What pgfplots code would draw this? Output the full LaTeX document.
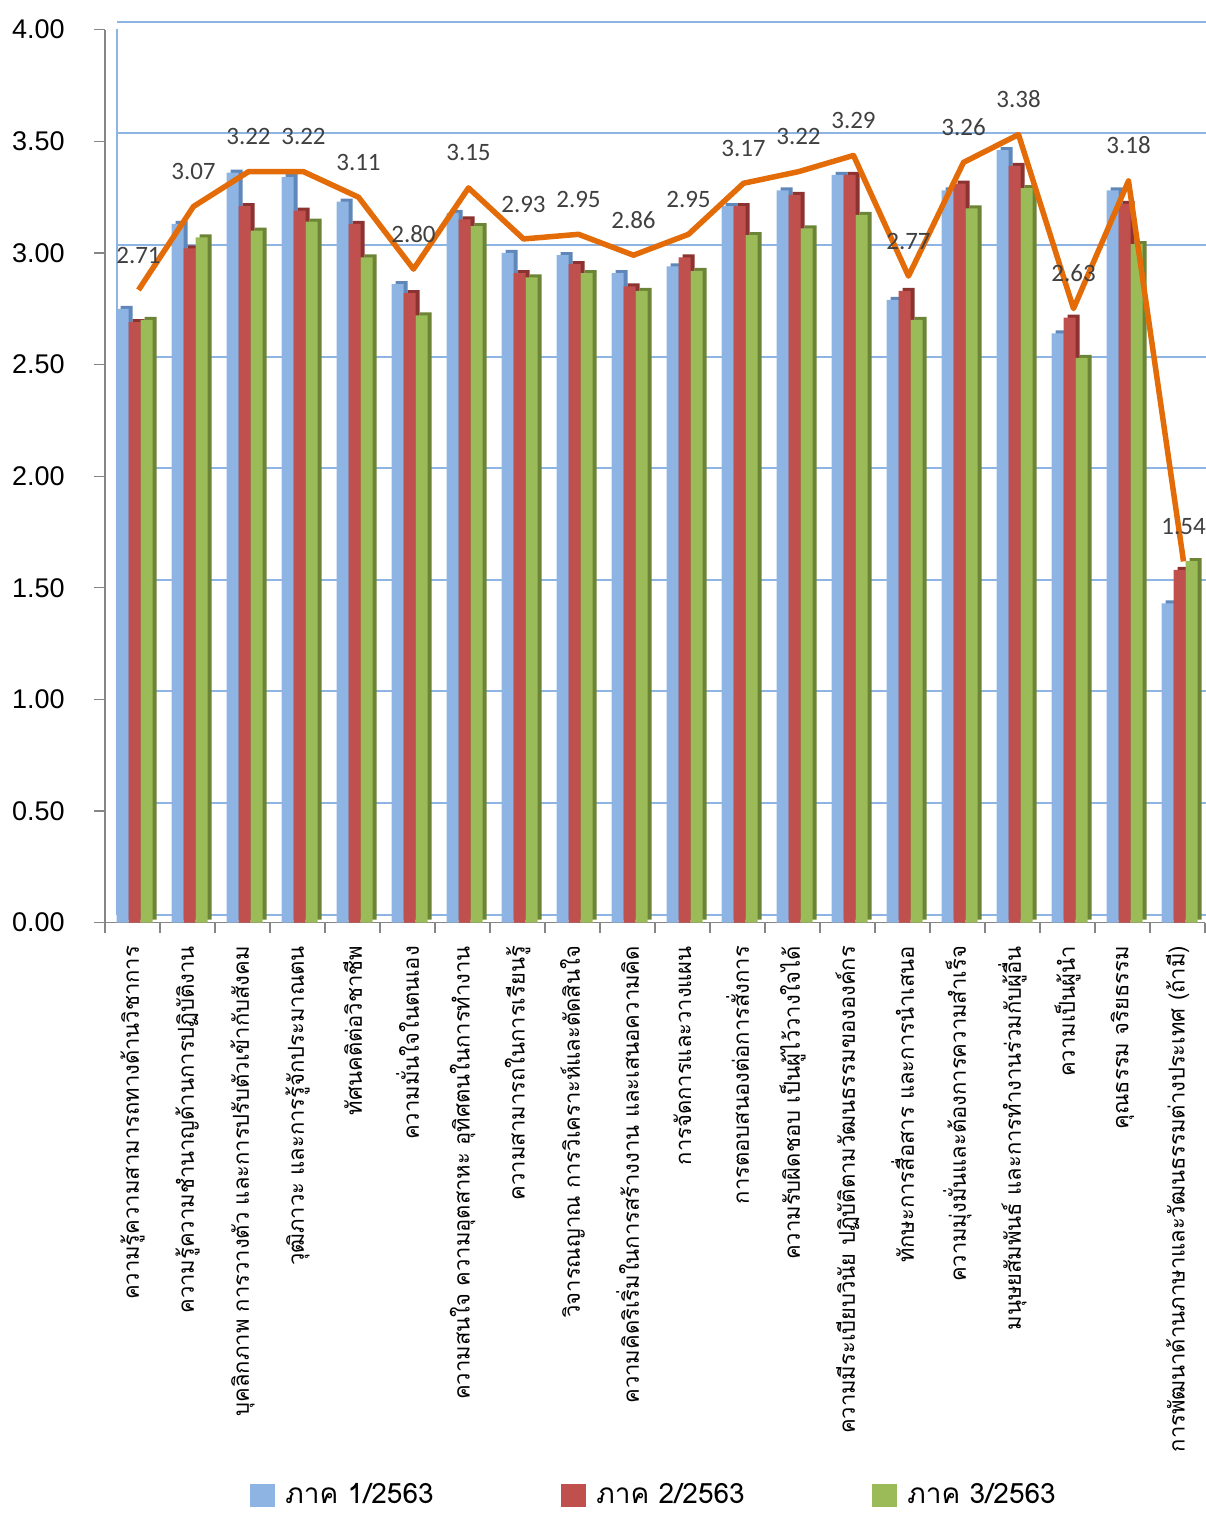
\documentclass[border=0pt]{standalone}
\usepackage{fontspec}
\setmainfont{Liberation Sans}
\newfontfamily\thaifont[Script=Thai]{Loma}
\newfontfamily\calfont{Carlito}
\usepackage{pgfplots}
\pgfplotsset{compat=1.18}
\usepackage{pgfplotstable}

\definecolor{sblue}{HTML}{8EB4E3}
\definecolor{sbluedk}{HTML}{5F87BA}
\definecolor{sred}{HTML}{C0504D}
\definecolor{sreddk}{HTML}{8C3230}
\definecolor{sgreen}{HTML}{9BBB59}
\definecolor{sgreendk}{HTML}{6B8436}
\definecolor{avgline}{HTML}{E36C09}
\definecolor{gridblue}{HTML}{8EB4E3}
\definecolor{axisgray}{HTML}{868686}
\definecolor{lbl}{HTML}{404040}

% x = category index, blue/red/green = term 1/2/3, avg = mean line
\pgfplotstableread{
x  blue  red   green avg
0  2.75  2.69  2.70  2.71
1  3.13  3.02  3.07  3.07
2  3.36  3.21  3.10  3.22
3  3.34  3.19  3.14  3.22
4  3.23  3.13  2.98  3.11
5  2.86  2.82  2.72  2.80
6  3.18  3.15  3.12  3.15
7  3.00  2.91  2.89  2.93
8  2.99  2.95  2.91  2.95
9  2.91  2.85  2.83  2.86
10 2.94  2.98  2.92  2.95
11 3.21  3.21  3.08  3.17
12 3.28  3.26  3.11  3.22
13 3.35  3.35  3.17  3.29
14 2.79  2.83  2.70  2.77
15 3.28  3.31  3.20  3.26
16 3.46  3.39  3.29  3.38
17 2.64  2.71  2.53  2.63
18 3.28  3.22  3.04  3.18
19 1.43  1.58  1.62  1.54
}\scores

\begin{document}
\begin{tikzpicture}
\useasboundingbox (0,0) rectangle (602.5pt,756.5pt);
\begin{axis}[
  at={(52.5pt,295.15pt)}, anchor=south west,
  scale only axis, width=550pt, height=446.5pt,
  xmin=-0.5, xmax=19.5, ymin=0, ymax=4,
  axis x line*=bottom, axis y line*=left,
  axis line style={axisgray, line width=0.75pt, -},
  ybar, bar width=6pt,
  xtick={0,...,19},
  xticklabels={
    ความรู้ความสามารถทางด้านวิชาการ,
    ความรู้ความชำนาญด้านการปฏิบัติงาน,
    บุคลิกภาพ การวางตัว และการปรับตัวเข้ากับสังคม,
    วุฒิภาวะ และการรู้จักประมาณตน,
    ทัศนคติต่อวิชาชีพ,
    ความมั่นใจในตนเอง,
    ความสนใจ ความอุตสาหะ อุทิศตนในการทำงาน,
    ความสามารถในการเรียนรู้,
    วิจารณญาณ การวิเคราะห์และตัดสินใจ,
    ความคิดริเริ่มในการสร้างงาน และเสนอความคิด,
    การจัดการและวางแผน,
    การตอบสนองต่อการสั่งการ,
    ความรับผิดชอบ เป็นผู้ไว้วางใจได้,
    ความมีระเบียบวินัย ปฏิบัติตามวัฒนธรรมขององค์กร,
    ทักษะการสื่อสาร และการนำเสนอ,
    ความมุ่งมั่นและต้องการความสำเร็จ,
    มนุษยสัมพันธ์ และการทำงานร่วมกับผู้อื่น,
    ความเป็นผู้นำ,
    คุณธรรม จริยธรรม,
    การพัฒนาด้านภาษาและวัฒนธรรมต่างประเทศ (ถ้ามี)},
  major x tick style={draw=none},
  minor xtick={-0.5,0.5,...,19.5},
  minor x tick style={axisgray, line width=0.6pt},
  minor tick length=5pt,
  tick align=outside,
  ytick={0,0.5,...,4},
  y tick style={axisgray, line width=0.6pt},
  major tick length=5.5pt,
  ymajorgrids,
  major grid style={gridblue, line width=1pt, xshift=6pt, yshift=4pt},
  xticklabel style={font=\thaifont\fontsize{11}{12}\selectfont,
    rotate=90, anchor=east, inner sep=0pt},
  xticklabel shift=6pt,
  y tick label style={/pgf/number format/.cd, fixed, fixed zerofill,
    precision=2, assume math mode=true, /tikz/.cd},
  yticklabel style={font=\fontsize{13.5}{13.5}\selectfont, inner sep=0pt},
  yticklabel shift=14.5pt,
  legend style={at={(0.1318,-0.641)}, anchor=west, draw=none,
    inner sep=0pt, legend columns=3,
    font=\thaifont\fontsize{14}{14}\selectfont,
    /tikz/every odd column/.append style={column sep=3pt}},
  legend image code/.code={\fill[#1, draw=none] (0pt,-5.75pt) rectangle (12.5pt,5.75pt);},
]
\draw[gridblue, line width=1pt] ([xshift=6pt,yshift=4pt]rel axis cs:0,0)
  -- ([xshift=6pt,yshift=4pt]rel axis cs:0,1);
% darker copies give the side and top faces of the 3D bars
\addplot[fill=sbluedk, draw=none, bar shift=-3pt, yshift=1.5pt, forget plot]
  table[x=x, y=blue]{\scores};
\addplot[fill=sblue, draw=none, bar shift=-5pt]
  table[x=x, y=blue]{\scores};
\addplot[fill=sreddk, draw=none, bar shift=3pt, yshift=1.5pt, forget plot]
  table[x=x, y=red]{\scores};
\addplot[fill=sred, draw=none, bar shift=1pt]
  table[x=x, y=red]{\scores};
\addplot[fill=sgreendk, draw=none, bar shift=9pt, yshift=1.5pt, forget plot]
  table[x=x, y=green]{\scores};
\addplot[fill=sgreen, draw=none, bar shift=7pt]
  table[x=x, y=green]{\scores};
\legend{\makebox[136pt][l]{ภาค 1/2563}, \makebox[136pt][l]{ภาค 2/2563}, \makebox[136pt][l]{ภาค 3/2563}}
\end{axis}
\begin{axis}[
  at={(52.5pt,295.15pt)}, anchor=south west,
  scale only axis, width=550pt, height=446.5pt,
  hide axis, clip=false,
  xmin=-0.609, xmax=19.391, ymin=-0.017, ymax=3.832,
]
\addplot[avgline, line width=2.75pt, line join=round,
  nodes near coords={\pgfmathprintnumber[fixed, fixed zerofill, precision=2,
    assume math mode=true]{\pgfplotspointmeta}},
  nodes near coords style={font=\calfont\fontsize{12.5}{12.5}\selectfont,
    text=lbl, anchor=south, inner sep=0pt, yshift=12pt}]
  table[x=x, y=avg]{\scores};
\end{axis}
\end{tikzpicture}
\end{document}
